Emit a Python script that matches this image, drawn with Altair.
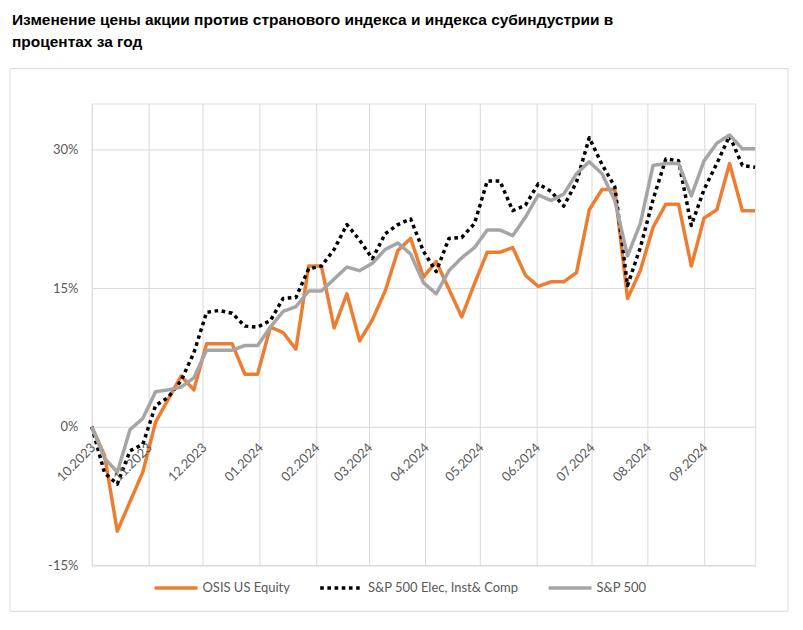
import altair as alt
import pandas as pd

# ---- data -----------------------------------------------------------------
dates = pd.date_range("2023-10-01", periods=53, freq="7D").strftime("%Y-%m-%d").tolist()

osis = [0.0, -3.1, -11.3, -8.1, -4.9, 0.5, 3.0, 5.5, 4.0, 9.0,
        9.0, 9.0, 5.7, 5.7, 10.8, 10.2, 8.4, 17.4, 17.4, 10.7,
        14.4, 9.3, 11.6, 14.7, 19.1, 20.4, 16.2, 17.9, 14.9, 11.9,
        15.5, 18.9, 18.9, 19.4, 16.4, 15.2, 15.7, 15.7, 16.7, 23.5,
        25.7, 25.7, 13.9, 16.9, 21.6, 24.1, 24.1, 17.4, 22.6, 23.5,
        28.5, 23.4, 23.4]

elec = [0.0, -5.0, -6.2, -2.6, -1.9, 2.3, 3.2, 5.0, 8.0, 12.4,
        12.6, 12.3, 10.9, 10.8, 11.5, 13.9, 14.0, 17.1, 17.4, 19.2,
        21.9, 20.2, 18.2, 20.9, 21.9, 22.5, 19.0, 16.8, 20.4, 20.5,
        22.0, 26.6, 26.6, 23.4, 24.0, 26.3, 25.5, 23.9, 26.5, 31.3,
        28.4, 26.0, 15.3, 19.4, 24.6, 29.0, 28.8, 21.8, 25.7, 28.5,
        31.5, 28.3, 28.1]

spx = [0.0, -3.4, -4.9, -0.3, 0.9, 3.8, 4.0, 4.3, 5.3, 8.3,
       8.3, 8.3, 8.8, 8.8, 10.8, 12.5, 13.0, 14.7, 14.7, 16.0,
       17.3, 16.9, 17.7, 19.2, 19.9, 18.7, 15.6, 14.4, 16.9, 18.3,
       19.4, 21.3, 21.3, 20.7, 22.7, 25.1, 24.5, 25.2, 27.4, 28.7,
       27.4, 24.5, 18.5, 22.0, 28.3, 28.5, 28.5, 25.0, 28.8, 30.7,
       31.6, 30.1, 30.1]

series_names = ["OSIS US Equity", "S&P 500 Elec, Inst& Comp", "S&P 500"]
series_colors = ["#ED7D31", "#000000", "#A5A5A5"]
series_dash = [[1, 0], [3.6, 3.6], [1, 0]]

month_ym = [(2023, 10), (2023, 11), (2023, 12), (2024, 1), (2024, 2), (2024, 3),
            (2024, 4), (2024, 5), (2024, 6), (2024, 7), (2024, 8), (2024, 9)]
month_labels = ["10.2023", "11.2023", "12.2023", "01.2024", "02.2024", "03.2024",
                "04.2024", "05.2024", "06.2024", "07.2024", "08.2024", "09.2024"]

y_ticks = [-0.15, 0.0, 0.15, 0.30]

title_lines = ["Изменение цены акции против странового индекса и индекса субиндустрии в",
               "процентах за год"]

# ---- tables ---------------------------------------------------------------
rows = []
for name, vals in zip(series_names, [osis, elec, spx]):
    for d, v in zip(dates, vals):
        rows.append({"date": d, "value": v / 100.0, "series": name})
df = pd.DataFrame(rows)

months_df = pd.DataFrame({
    "date": [f"{y}-{m:02d}-01" for y, m in month_ym],
    "label": month_labels,
})

LABEL_FONT = "Lato"
GRID = "#d9d9d9"
TXT = "#595959"

first = pd.Timestamp(dates[0])
last = pd.Timestamp(dates[-1])

x_scale = alt.Scale(
    type="utc",
    domain=[alt.DateTime(year=first.year, month=first.month, date=first.day, utc=True),
            alt.DateTime(year=last.year, month=last.month, date=last.day, utc=True)],
)
x_axis = alt.Axis(
    values=[alt.DateTime(year=y, month=m, date=1, utc=True) for y, m in month_ym],
    grid=True, gridColor=GRID, gridWidth=1,
    labels=False, ticks=False, domain=False, title=None,
)
y_scale = alt.Scale(domain=[-0.15, 0.35], nice=False, zero=False)
y_axis = alt.Axis(
    values=y_ticks, format=".0%", labelExpr="replace(datum.label, '\u2212', '-')",
    grid=True, gridColor=GRID, gridWidth=1,
    ticks=False, domain=False, title=None,
    labelFont=LABEL_FONT, labelFontSize=13, labelColor=TXT, labelPadding=14,
)

legend = alt.Legend(
    orient="none", legendX=61, legendY=462, direction="horizontal", title=None,
    symbolType="stroke", symbolSize=1850, symbolStrokeWidth=3.5,
    labelFont=LABEL_FONT, labelFontSize=13, labelColor=TXT,
    labelOffset=3, columnPadding=22, padding=0,
)

frame = alt.Chart(alt.Data(values=[{"k": 1}])).mark_rect(
    fillOpacity=0, stroke=GRID, strokeWidth=1
).encode(
    x=alt.value(-82), x2=alt.value(698), y=alt.value(-35), y2=alt.value(509)
)

lines = alt.Chart(df).mark_line(strokeWidth=3.5, strokeJoin="round").encode(
    x=alt.X("date:T", scale=x_scale, axis=x_axis),
    y=alt.Y("value:Q", scale=y_scale, axis=y_axis),
    color=alt.Color("series:N", scale=alt.Scale(domain=series_names, range=series_colors),
                    legend=legend),
    strokeDash=alt.StrokeDash("series:N", scale=alt.Scale(domain=series_names, range=series_dash),
                              legend=legend),
    order=alt.Order("date:T"),
)

labels = alt.Chart(months_df).mark_text(
    angle=315, align="right", baseline="middle", dx=-12, dy=14.5,
    font=LABEL_FONT, fontSize=13, color=TXT,
).encode(
    x=alt.X("date:T", scale=x_scale, axis=x_axis),
    y=alt.YDatum(0, scale=y_scale, axis=y_axis),
    text="label:N",
)

chart = alt.layer(frame, lines, labels).properties(
    width=665, height=463,
    autosize=alt.AutoSizeParams(type="none"),
    padding={"left": 84, "top": 95, "right": 40, "bottom": 50},
    title=alt.TitleParams(
        text=title_lines, anchor="start", frame="group", dx=-80, offset=18,
        font="Liberation Sans, Arial", fontSize=15.5,
        fontWeight="bold", color="#000000", lineHeight=22,
    ),
).configure_view(strokeOpacity=0).configure(background="white")

chart.save("out.html", embed_options={"renderer": "svg", "actions": False})
